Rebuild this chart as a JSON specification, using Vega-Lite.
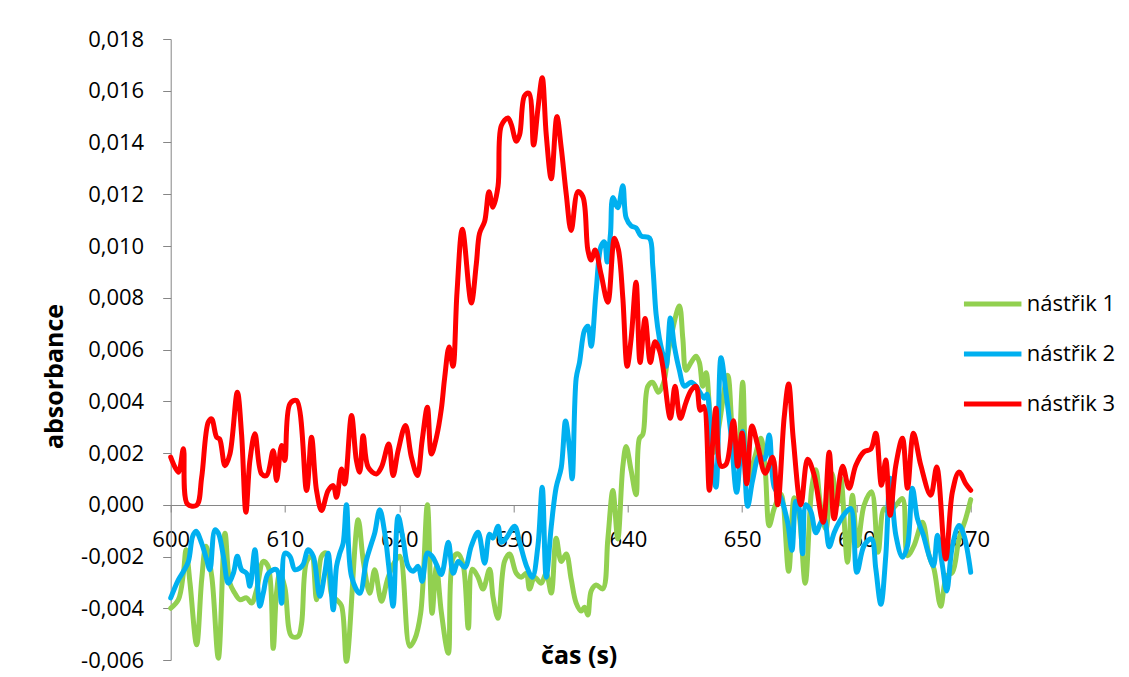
{
  "$schema": "https://vega.github.io/schema/vega-lite/v6.json",
  "autosize": {"type": "none"},
  "width": 800,
  "height": 621,
  "padding": {"left": 170.7, "top": 39, "right": 158.3, "bottom": 17},
  "background": "white",
  "config": {
    "font": "Open Sans",
    "view": {"stroke": null},
    "axis": {"grid": false, "domainColor": "#868686", "tickColor": "#868686", "domainWidth": 1, "tickWidth": 1, "labelFont": "Open Sans", "labelFontSize": 22, "labelColor": "#000000", "titleFont": "Open Sans", "titleFontSize": 25, "titleFontWeight": "bold", "titleColor": "#000000"}
  },
  "datasets": {
    "n1": [
      {"t":600.0,"a":-0.00400},{"t":600.67,"a":-0.00367},{"t":601.11,"a":-0.00265},{"t":601.34,"a":-0.00174},{"t":601.69,"a":-0.00303},{"t":602.27,"a":-0.00541},{"t":602.71,"a":-0.00290},{"t":603.08,"a":-0.00160},{"t":603.6,"a":-0.00280},{"t":604.17,"a":-0.00593},{"t":604.75,"a":-0.00110},{"t":605.18,"a":-0.00303},{"t":605.59,"a":-0.00340},{"t":606.06,"a":-0.00367},{"t":606.64,"a":-0.00360},{"t":607.08,"a":-0.00380},{"t":607.52,"a":-0.00328},{"t":608.10,"a":-0.00219},{"t":608.54,"a":-0.00240},{"t":608.97,"a":-0.00555},{"t":609.26,"a":-0.00340},{"t":609.55,"a":-0.00265},{"t":609.99,"a":-0.00320},{"t":610.57,"a":-0.00508},{"t":611.16,"a":-0.00508},{"t":611.45,"a":-0.00460},{"t":611.89,"a":-0.00220},{"t":612.32,"a":-0.00199},{"t":612.76,"a":-0.00367},{"t":613.20,"a":-0.00199},{"t":613.63,"a":-0.00187},{"t":614.1,"a":-0.00350},{"t":614.51,"a":-0.00367},{"t":614.94,"a":-0.00390},{"t":615.38,"a":-0.00605},{"t":616.40,"a":-0.00058},{"t":616.86,"a":-0.00220},{"t":617.42,"a":-0.00342},{"t":617.85,"a":-0.00251},{"t":618.44,"a":-0.00373},{"t":618.96,"a":-0.00290},{"t":619.49,"a":-0.00230},{"t":620.04,"a":-0.00199},{"t":620.91,"a":-0.00547},{"t":621.35,"a":-0.00520},{"t":621.87,"a":-0.00420},{"t":622.46,"a":0.00000},{"t":622.87,"a":-0.00419},{"t":623.25,"a":-0.00240},{"t":623.68,"a":-0.00415},{"t":624.29,"a":-0.00574},{"t":624.72,"a":-0.00205},{"t":625.16,"a":-0.00190},{"t":625.60,"a":-0.00234},{"t":626.04,"a":-0.00477},{"t":626.39,"a":-0.00249},{"t":626.89,"a":-0.00280},{"t":627.33,"a":-0.00326},{"t":627.90,"a":-0.00249},{"t":628.20,"a":-0.00356},{"t":628.64,"a":-0.00439},{"t":629.21,"a":-0.00219},{"t":629.65,"a":-0.00190},{"t":630.24,"a":-0.00265},{"t":630.67,"a":-0.00280},{"t":631.11,"a":-0.00265},{"t":631.40,"a":-0.00326},{"t":631.84,"a":-0.00280},{"t":632.42,"a":-0.00303},{"t":632.86,"a":-0.00265},{"t":633.30,"a":-0.00341},{"t":633.73,"a":-0.00129},{"t":634.17,"a":-0.00219},{"t":634.61,"a":-0.00190},{"t":635.04,"a":-0.00287},{"t":635.48,"a":-0.00380},{"t":635.92,"a":-0.00411},{"t":636.21,"a":-0.00396},{"t":636.50,"a":-0.00426},{"t":636.79,"a":-0.00333},{"t":637.23,"a":-0.00310},{"t":637.81,"a":-0.00325},{"t":638.25,"a":-0.00132},{"t":638.69,"a":0.00055},{"t":639.12,"a":-0.00132},{"t":639.56,"a":0.00148},{"t":639.85,"a":0.00225},{"t":640.29,"a":0.00132},{"t":640.72,"a":0.00039},{"t":641.01,"a":0.00256},{"t":641.31,"a":0.00272},{"t":641.75,"a":0.00458},{"t":642.18,"a":0.00473},{"t":642.67,"a":0.00435},{"t":643.14,"a":0.00473},{"t":643.63,"a":0.00613},{"t":644.51,"a":0.00768},{"t":644.81,"a":0.00643},{"t":645.09,"a":0.00520},{"t":645.53,"a":0.00550},{"t":645.97,"a":0.00574},{"t":646.26,"a":0.00550},{"t":646.55,"a":0.00458},{"t":646.85,"a":0.00510},{"t":647.20,"a":0.00338},{"t":647.57,"a":0.00203},{"t":648.00,"a":0.00311},{"t":648.74,"a":0.00500},{"t":649.17,"a":0.00270},{"t":649.61,"a":0.00162},{"t":650.05,"a":0.00473},{"t":650.48,"a":0.00095},{"t":651.06,"a":0.00176},{"t":651.64,"a":0.00257},{"t":652.02,"a":0.00135},{"t":652.37,"a":-0.00081},{"t":652.81,"a":-0.00014},{"t":653.39,"a":0.00041},{"t":654.07,"a":-0.00257},{"t":654.56,"a":0.00027},{"t":654.99,"a":-0.00041},{"t":655.52,"a":-0.00303},{"t":656.10,"a":0.00068},{"t":656.45,"a":0.00135},{"t":656.89,"a":-0.00014},{"t":657.33,"a":-0.00095},{"t":657.85,"a":0.00122},{"t":658.35,"a":0.00000},{"t":658.64,"a":0.00102},{"t":659.22,"a":-0.00222},{"t":659.65,"a":0.00037},{"t":660.09,"a":-0.00158},{"t":660.67,"a":-0.00002},{"t":661.32,"a":0.00050},{"t":661.90,"a":-0.00184},{"t":662.42,"a":-0.00015},{"t":662.86,"a":-0.00029},{"t":663.45,"a":-0.00002},{"t":664.03,"a":0.00024},{"t":664.47,"a":-0.00197},{"t":665.04,"a":-0.00158},{"t":665.78,"a":-0.00068},{"t":666.36,"a":-0.00197},{"t":666.79,"a":-0.00249},{"t":667.38,"a":-0.00392},{"t":667.90,"a":-0.00275},{"t":668.40,"a":-0.00261},{"t":668.98,"a":-0.00132},{"t":669.56,"a":-0.00054},{"t":670.00,"a":0.00020}
    ],
    "n2": [
      {"t":600.0,"a":-0.00360},{"t":600.67,"a":-0.00290},{"t":601.11,"a":-0.00258},{"t":601.55,"a":-0.00219},{"t":601.92,"a":-0.00122},{"t":602.21,"a":-0.00102},{"t":602.71,"a":-0.00149},{"t":603.15,"a":-0.00213},{"t":603.43,"a":-0.00251},{"t":603.87,"a":-0.00097},{"t":604.17,"a":-0.00110},{"t":604.61,"a":-0.00199},{"t":605.04,"a":-0.00303},{"t":605.48,"a":-0.00265},{"t":605.83,"a":-0.00199},{"t":606.20,"a":-0.00251},{"t":606.64,"a":-0.00265},{"t":606.93,"a":-0.00315},{"t":607.37,"a":-0.00174},{"t":607.80,"a":-0.00392},{"t":608.10,"a":-0.00342},{"t":608.54,"a":-0.00265},{"t":609.26,"a":-0.00251},{"t":609.70,"a":-0.00381},{"t":609.99,"a":-0.00187},{"t":610.43,"a":-0.00199},{"t":610.86,"a":-0.00251},{"t":611.30,"a":-0.00245},{"t":611.60,"a":-0.00230},{"t":612.03,"a":-0.00174},{"t":612.47,"a":-0.00199},{"t":613.05,"a":-0.00354},{"t":613.48,"a":-0.00265},{"t":613.78,"a":-0.00187},{"t":614.22,"a":-0.00406},{"t":614.51,"a":-0.00238},{"t":614.80,"a":-0.00187},{"t":615.09,"a":-0.00149},{"t":615.38,"a":0.00000},{"t":615.82,"a":-0.00277},{"t":616.54,"a":-0.00342},{"t":617.13,"a":-0.00213},{"t":617.57,"a":-0.00149},{"t":617.85,"a":-0.00110},{"t":618.29,"a":-0.00019},{"t":618.73,"a":-0.00110},{"t":619.08,"a":-0.00238},{"t":619.46,"a":-0.00392},{"t":619.90,"a":-0.00044},{"t":620.34,"a":-0.00135},{"t":620.77,"a":-0.00238},{"t":621.21,"a":-0.00257},{"t":621.65,"a":-0.00238},{"t":622.00,"a":-0.00296},{"t":622.46,"a":-0.00187},{"t":622.87,"a":-0.00199},{"t":623.25,"a":-0.00230},{"t":623.68,"a":-0.00270},{"t":624.29,"a":-0.00145},{"t":624.72,"a":-0.00265},{"t":625.16,"a":-0.00219},{"t":625.74,"a":-0.00242},{"t":626.30,"a":-0.00160},{"t":626.89,"a":-0.00106},{"t":627.47,"a":-0.00226},{"t":627.90,"a":-0.00114},{"t":628.20,"a":-0.00129},{"t":628.64,"a":-0.00083},{"t":628.93,"a":-0.00145},{"t":629.36,"a":-0.00129},{"t":630.09,"a":-0.00083},{"t":630.53,"a":-0.00145},{"t":631.11,"a":-0.00234},{"t":631.64,"a":-0.00280},{"t":632.13,"a":-0.00160},{"t":632.51,"a":0.00068},{"t":632.86,"a":-0.00280},{"t":633.30,"a":-0.00083},{"t":633.73,"a":0.00068},{"t":634.17,"a":0.00143},{"t":634.55,"a":0.00324},{"t":634.89,"a":0.00218},{"t":635.13,"a":0.00100},{"t":635.48,"a":0.00489},{"t":635.77,"a":0.00550},{"t":636.21,"a":0.00674},{"t":636.50,"a":0.00690},{"t":636.79,"a":0.00613},{"t":637.23,"a":0.00829},{"t":637.66,"a":0.01000},{"t":637.95,"a":0.01016},{"t":638.19,"a":0.00938},{"t":638.48,"a":0.01047},{"t":638.69,"a":0.01187},{"t":639.12,"a":0.01148},{"t":639.56,"a":0.01233},{"t":639.85,"a":0.01109},{"t":640.29,"a":0.01078},{"t":640.72,"a":0.01070},{"t":641.16,"a":0.01039},{"t":641.89,"a":0.01031},{"t":642.18,"a":0.00923},{"t":642.47,"a":0.00737},{"t":642.76,"a":0.00643},{"t":643.06,"a":0.00582},{"t":643.35,"a":0.00535},{"t":643.72,"a":0.00722},{"t":644.07,"a":0.00613},{"t":644.51,"a":0.00520},{"t":644.94,"a":0.00458},{"t":645.53,"a":0.00473},{"t":645.97,"a":0.00458},{"t":646.41,"a":0.00427},{"t":646.69,"a":0.00412},{"t":646.93,"a":0.00427},{"t":647.28,"a":0.00203},{"t":647.71,"a":0.00068},{"t":648.15,"a":0.00568},{"t":648.59,"a":0.00433},{"t":649.03,"a":0.00270},{"t":649.52,"a":0.00048},{"t":650.05,"a":0.00284},{"t":650.48,"a":-0.00006},{"t":650.92,"a":0.00095},{"t":651.50,"a":0.00189},{"t":651.94,"a":0.00176},{"t":652.37,"a":0.00270},{"t":652.81,"a":0.00068},{"t":653.39,"a":0.00027},{"t":653.98,"a":-0.00068},{"t":654.36,"a":-0.00176},{"t":654.71,"a":0.00014},{"t":654.99,"a":-0.00014},{"t":655.29,"a":-0.00189},{"t":655.58,"a":0.00000},{"t":656.02,"a":-0.00027},{"t":656.45,"a":-0.00108},{"t":656.89,"a":-0.00068},{"t":657.18,"a":-0.00054},{"t":657.62,"a":-0.00162},{"t":658.05,"a":-0.00108},{"t":658.49,"a":-0.00068},{"t":659.08,"a":-0.00029},{"t":659.51,"a":-0.00015},{"t":660.04,"a":-0.00261},{"t":660.67,"a":-0.00158},{"t":661.32,"a":-0.00132},{"t":661.70,"a":-0.00249},{"t":662.14,"a":-0.00385},{"t":662.57,"a":-0.00197},{"t":662.95,"a":0.00102},{"t":663.45,"a":-0.00118},{"t":664.03,"a":-0.00203},{"t":664.47,"a":-0.00158},{"t":664.90,"a":0.00064},{"t":665.34,"a":-0.00054},{"t":665.86,"a":-0.00118},{"t":666.27,"a":-0.00184},{"t":666.74,"a":-0.00236},{"t":667.09,"a":-0.00118},{"t":667.53,"a":-0.00236},{"t":667.90,"a":-0.00333},{"t":668.40,"a":-0.00158},{"t":668.98,"a":-0.00080},{"t":669.41,"a":-0.00118},{"t":670.00,"a":-0.00261}
    ],
    "n3": [
      {"t":600.0,"a":0.00184},{"t":600.67,"a":0.00126},{"t":601.11,"a":0.00216},{"t":601.46,"a":0.00003},{"t":602.27,"a":-0.00002},{"t":602.71,"a":0.00106},{"t":603.29,"a":0.00319},{"t":603.58,"a":0.00332},{"t":604.02,"a":0.00261},{"t":604.28,"a":0.00254},{"t":604.75,"a":0.00151},{"t":605.18,"a":0.00196},{"t":605.83,"a":0.00435},{"t":606.20,"a":0.00274},{"t":606.58,"a":-0.00029},{"t":606.93,"a":0.00171},{"t":607.37,"a":0.00274},{"t":607.95,"a":0.00119},{"t":608.39,"a":0.00113},{"t":608.97,"a":0.00209},{"t":609.26,"a":0.00094},{"t":609.70,"a":0.00229},{"t":609.99,"a":0.00171},{"t":610.43,"a":0.00390},{"t":611.01,"a":0.00403},{"t":611.89,"a":0.00055},{"t":612.32,"a":0.00261},{"t":612.76,"a":0.00055},{"t":613.20,"a":-0.00022},{"t":613.78,"a":0.00055},{"t":614.22,"a":0.00074},{"t":614.51,"a":0.00029},{"t":614.94,"a":0.00138},{"t":615.23,"a":0.00080},{"t":615.82,"a":0.00345},{"t":616.25,"a":0.00171},{"t":616.54,"a":0.00126},{"t":616.84,"a":0.00267},{"t":617.28,"a":0.00145},{"t":618.00,"a":0.00119},{"t":618.44,"a":0.00145},{"t":619.08,"a":0.00235},{"t":619.46,"a":0.00113},{"t":619.90,"a":0.00209},{"t":620.54,"a":0.00306},{"t":621.06,"a":0.00184},{"t":621.59,"a":0.00113},{"t":622.00,"a":0.00248},{"t":622.46,"a":0.00377},{"t":622.81,"a":0.00196},{"t":623.25,"a":0.00260},{"t":623.68,"a":0.00370},{"t":623.97,"a":0.00490},{"t":624.36,"a":0.00610},{"t":624.70,"a":0.00535},{"t":625.05,"a":0.00820},{"t":625.52,"a":0.01065},{"t":626.30,"a":0.00780},{"t":626.74,"a":0.00930},{"t":627.03,"a":0.01050},{"t":627.47,"a":0.01095},{"t":627.85,"a":0.01210},{"t":628.20,"a":0.01150},{"t":628.64,"a":0.01230},{"t":628.93,"a":0.01465},{"t":629.51,"a":0.01495},{"t":629.80,"a":0.01470},{"t":630.24,"a":0.01405},{"t":630.53,"a":0.01430},{"t":630.96,"a":0.01580},{"t":631.35,"a":0.01590},{"t":631.75,"a":0.01390},{"t":632.13,"a":0.01530},{"t":632.51,"a":0.01650},{"t":632.86,"a":0.01430},{"t":633.30,"a":0.01260},{"t":633.79,"a":0.01500},{"t":634.17,"a":0.01380},{"t":634.61,"a":0.01200},{"t":635.04,"a":0.01060},{"t":635.63,"a":0.01210},{"t":636.07,"a":0.01190},{"t":636.50,"a":0.00985},{"t":636.79,"a":0.00946},{"t":637.14,"a":0.00985},{"t":637.66,"a":0.00890},{"t":638.25,"a":0.00783},{"t":638.83,"a":0.01030},{"t":639.18,"a":0.00985},{"t":639.56,"a":0.00800},{"t":639.94,"a":0.00535},{"t":640.29,"a":0.00643},{"t":640.72,"a":0.00860},{"t":641.07,"a":0.00550},{"t":641.51,"a":0.00720},{"t":641.97,"a":0.00550},{"t":642.38,"a":0.00630},{"t":642.76,"a":0.00597},{"t":643.06,"a":0.00535},{"t":643.72,"a":0.00334},{"t":644.13,"a":0.00458},{"t":644.59,"a":0.00334},{"t":645.09,"a":0.00396},{"t":645.53,"a":0.00442},{"t":645.97,"a":0.00458},{"t":646.34,"a":0.00365},{"t":646.64,"a":0.00380},{"t":647.13,"a":0.00056},{"t":647.43,"a":0.00243},{"t":647.71,"a":0.00373},{"t":648.15,"a":0.00149},{"t":648.59,"a":0.00156},{"t":649.23,"a":0.00325},{"t":649.61,"a":0.00149},{"t":649.99,"a":0.00277},{"t":650.40,"a":0.00081},{"t":650.86,"a":0.00304},{"t":651.36,"a":0.00230},{"t":652.02,"a":0.00122},{"t":652.67,"a":0.00184},{"t":653.11,"a":0.00000},{"t":653.68,"a":0.00338},{"t":654.07,"a":0.00467},{"t":654.47,"a":0.00257},{"t":655.14,"a":0.00000},{"t":655.73,"a":0.00176},{"t":656.30,"a":0.00115},{"t":657.09,"a":-0.00068},{"t":657.62,"a":0.00203},{"t":658.05,"a":-0.00054},{"t":658.79,"a":0.00149},{"t":659.36,"a":0.00064},{"t":659.95,"a":0.00153},{"t":660.67,"a":0.00205},{"t":661.26,"a":0.00215},{"t":661.70,"a":0.00276},{"t":662.19,"a":0.00075},{"t":662.57,"a":0.00173},{"t":662.95,"a":-0.00041},{"t":663.45,"a":0.00153},{"t":664.03,"a":0.00257},{"t":664.47,"a":0.00064},{"t":664.99,"a":0.00276},{"t":665.63,"a":0.00153},{"t":666.50,"a":0.00037},{"t":667.03,"a":0.00146},{"t":667.81,"a":-0.00210},{"t":668.40,"a":0.00050},{"t":668.98,"a":0.00127},{"t":669.56,"a":0.00082},{"t":670.00,"a":0.00056}
    ]
  },
  "encoding": {
    "x": {
      "field": "t", "type": "quantitative",
      "scale": {"domain": [600, 670], "nice": false, "zero": false},
      "axis": {"values": [600, 610, 620, 630, 640, 650, 660, 670], "offset": -155, "tickSize": 7, "labelPadding": 17, "labelFlush": false, "labelOverlap": false, "title": "čas (s)", "titleX": 408, "titleY": 158, "titleBaseline": "alphabetic", "titleAnchor": null, "titleAlign": "center"}
    },
    "y": {
      "field": "a", "type": "quantitative",
      "scale": {"domain": [-0.006, 0.018], "nice": false, "zero": false},
      "axis": {"values": [-0.006, -0.004, -0.002, 0, 0.002, 0.004, 0.006, 0.008, 0.010, 0.012, 0.014, 0.016, 0.018], "tickSize": 8, "labelPadding": 19, "labelOverlap": false, "labelFlush": false, "labelExpr": "replace(replace(format(datum.value, '.3f'), '.', ','), '\u2212', '-')", "title": "absorbance", "titleX": -108, "titleY": 337, "titleBaseline": "alphabetic", "titleAngle": -90, "titleAlign": "center"}
    },
    "color": {
      "type": "nominal",
      "scale": {"domain": ["nástřik 1", "nástřik 2", "nástřik 3"], "range": ["#92D050", "#00B0F0", "#FF0000"]},
      "legend": {"orient": "none", "legendX": 808, "legendY": 251, "title": null, "padding": 0, "symbolType": "M-2.5,0H2.5", "symbolSize": 529, "symbolStrokeWidth": 5, "labelOffset": 20, "rowPadding": 25, "labelFont": "Open Sans", "labelFontSize": 22, "labelColor": "#000000"}
    }
  },
  "layer": [
    {"data": {"name": "n1"}, "mark": {"type": "line", "interpolate": "catmull-rom", "strokeWidth": 5, "strokeJoin": "round", "strokeCap": "round"}, "encoding": {"color": {"datum": "nástřik 1", "type": "nominal"}}},
    {"data": {"name": "n2"}, "mark": {"type": "line", "interpolate": "catmull-rom", "strokeWidth": 5, "strokeJoin": "round", "strokeCap": "round"}, "encoding": {"color": {"datum": "nástřik 2", "type": "nominal"}}},
    {"data": {"name": "n3"}, "mark": {"type": "line", "interpolate": "catmull-rom", "strokeWidth": 5, "strokeJoin": "round", "strokeCap": "round"}, "encoding": {"color": {"datum": "nástřik 3", "type": "nominal"}}}
  ]
}
